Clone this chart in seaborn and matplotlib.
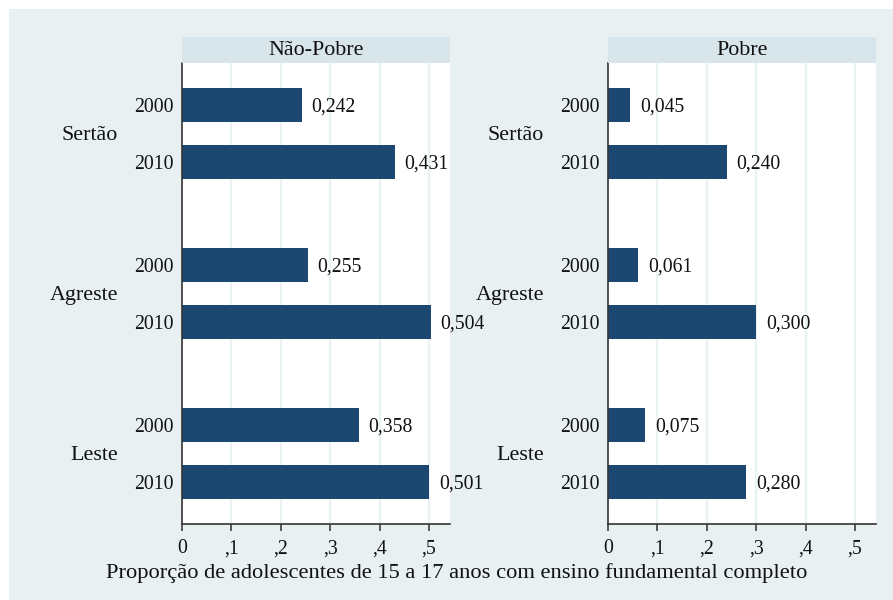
import numpy as np
import pandas as pd
import matplotlib
matplotlib.use("Agg")
import matplotlib.pyplot as plt
from matplotlib.patches import Rectangle
import seaborn as sns

# ---- data ----
regions = ["Sertão", "Agreste", "Leste"]
years = ["2000", "2010"]
panels = ["Não-Pobre", "Pobre"]
nao_pobre = [0.242, 0.431, 0.255, 0.504, 0.358, 0.501]
pobre = [0.045, 0.240, 0.061, 0.300, 0.075, 0.280]
xticks = [0, 0.1, 0.2, 0.3, 0.4, 0.5]
xtick_labels = ["0", ",1", ",2", ",3", ",4", ",5"]
xlabel = "Proporção de adolescentes de 15 a 17 anos com ensino fundamental completo"

# ---- layout ----
group_step = 2.807
rows = []
for pname, vals in zip(panels, [nao_pobre, pobre]):
    k = 0
    for gi, reg in enumerate(regions):
        for yi, yr in enumerate(years):
            rows.append(dict(panel=pname, region=reg, year=yr,
                             pos=gi * group_step + yi, value=vals[k]))
            k += 1
df = pd.DataFrame(rows)

sns.set_theme(style="white")
plt.rcParams["font.family"] = ["Liberation Serif", "DejaVu Serif"]

W, H = 893, 600
fig = plt.figure(figsize=(W / 100, H / 100), dpi=100)
fig.patch.set_facecolor("white")
bg = "#e8f0f2"
strip_c = "#d8e5eb"
bar_c = "#1c4770"
grid_c = "#ebf2f5"
txt_c = "#111111"
fig.patches.append(Rectangle((9 / W, 0), 1, (H - 9) / H, transform=fig.transFigure,
                             facecolor=bg, edgecolor="none", zorder=-10))

FS_NUM = 14.2
FS_TXT = 15.8
panel_x = [(182, 450), (608, 876)]
top_px, bot_px = 63, 524
strip_top = 37

for (x0, x1), pname in zip(panel_x, panels):
    ax = fig.add_axes([x0 / W, 1 - bot_px / H, (x1 - x0) / W, (bot_px - top_px) / H])
    sub = df[df.panel == pname]
    sns.barplot(data=sub, x="value", y="pos", orient="h", native_scale=True,
                width=0.61, color=bar_c, saturation=1, ax=ax, errorbar=None,
                linewidth=0, edgecolor="none")
    ax.set_facecolor("white")
    ax.set_xlim(0, (x1 - x0) / 494)
    ax.set_ylim(7.35, -0.737)
    ax.set_xticks(xticks)
    ax.set_xticklabels(xtick_labels, fontsize=FS_NUM, color=txt_c)
    ax.set_yticks(sub["pos"].tolist())
    ax.set_yticklabels(sub["year"].tolist(), fontsize=FS_NUM, color=txt_c)
    ax.tick_params(axis="y", length=0, pad=6)
    ax.tick_params(axis="x", length=5, width=1.1, color="#333333", pad=6, direction="out")
    ax.xaxis.set_ticks_position("bottom")
    ax.set_xlabel("")
    ax.set_ylabel("")
    for x in xticks[1:]:
        ax.axvline(x, color=grid_c, lw=1.6, zorder=0)
    for s in ["top", "right"]:
        ax.spines[s].set_visible(False)
    for s in ["left", "bottom"]:
        ax.spines[s].set_color("#333333")
        ax.spines[s].set_linewidth(1.2)
    cont = ax.containers[0]
    texts = ax.bar_label(cont, labels=[f"{v:.3f}".replace(".", ",") for v in sub["value"]],
                         padding=7, fontsize=FS_NUM, color=txt_c)
    for t in texts:
        t.set_va("center_baseline")
    # group labels
    for gi, reg in enumerate(regions):
        ax.text(-64 / (x1 - x0), gi * group_step + 0.53, reg, transform=ax.get_yaxis_transform(),
                ha="right", va="center", fontsize=FS_TXT, color=txt_c)
    # strip
    sax = fig.add_axes([x0 / W, 1 - top_px / H, (x1 - x0) / W, (top_px - strip_top) / H])
    sax.set_facecolor(strip_c)
    sax.set_xticks([]); sax.set_yticks([])
    for s in sax.spines.values():
        s.set_visible(False)
    sax.text(0.5, 0.48, pname, ha="center", va="center", fontsize=FS_TXT, color=txt_c,
             transform=sax.transAxes)

fig.text(457 / W, 1 - 573 / H, xlabel, ha="center", va="center", fontsize=16.2, color=txt_c)

fig.savefig("out.png", dpi=100, facecolor="white")
